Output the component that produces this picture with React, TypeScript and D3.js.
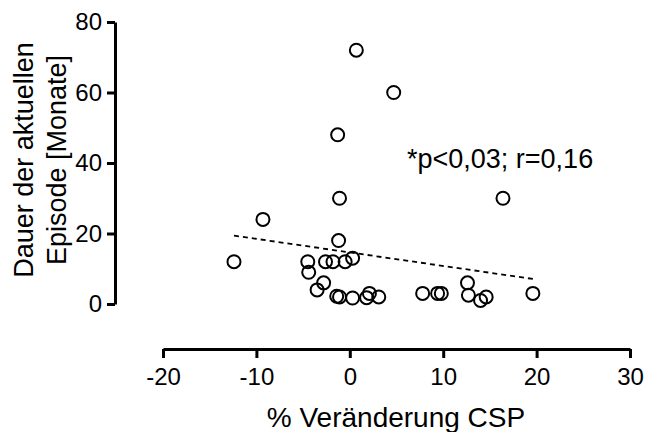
import React, { useEffect, useRef } from 'react';
import * as d3 from 'd3';

// values: % change CSP vs. duration of the episode (months)
const changeCSP = [0.7, 4.7, -1.3, -1.1, 16.4, -9.3, -1.2, 0.3, -12.4, -4.5, -2.6, -1.8, -0.5, -4.4, -2.8, -3.5, -1.1, -1.4, 0.3, 1.8, 2.1, 3.1, 7.8, 9.4, 9.8, 12.6, 12.7, 14.0, 14.6, 19.6];
const durationMonths = [72, 60, 48, 30, 30, 24, 18, 13, 12, 12, 12, 12, 12, 9, 6, 4, 2, 2.2, 1.7, 1.8, 3, 2, 3, 3, 3, 6, 2.5, 1, 2, 3];
const fitX = [-12.4, 19.6];
const fitY = [19.4, 7.1];
const xTicks = [-20, -10, 0, 10, 20, 30];
const yTicks = [0, 20, 40, 60, 80];

const FONT = '"Liberation Sans", Arial, Helvetica, sans-serif';

export default function App() {
  const ref = useRef<SVGSVGElement>(null);

  useEffect(() => {
    const svg = d3.select(ref.current);
    svg.selectAll('*').remove();

    const x = d3.scaleLinear().domain([-20, 30]).range([163, 630]);
    const y = d3.scaleLinear().domain([0, 80]).range([304, 22]);

    // y axis
    const gy = svg.append('g').attr('transform', 'translate(115,0)')
      .call(d3.axisLeft(y).tickValues(yTicks).tickSize(8).tickSizeOuter(0).tickPadding(5)
        .tickFormat(d => String(d)));
    gy.select('.domain').attr('stroke', '#000').attr('stroke-width', 3);
    gy.selectAll('.tick line').attr('stroke', '#000').attr('stroke-width', 3);
    gy.selectAll('.tick text').attr('font-family', FONT).attr('font-size', 24).attr('fill', '#000');

    // x axis, set off below the plot
    const gx = svg.append('g').attr('transform', 'translate(0,349)')
      .call(d3.axisBottom(x).tickValues(xTicks).tickSize(9).tickSizeOuter(0).tickPadding(10)
        .tickFormat(d => String(d)));
    gx.select('.domain').attr('stroke', '#000').attr('stroke-width', 3);
    gx.selectAll('.tick line').attr('stroke', '#000').attr('stroke-width', 3);
    gx.selectAll('.tick text').attr('font-family', FONT).attr('font-size', 24).attr('fill', '#000');

    // axis titles
    svg.append('text')
      .attr('x', 396).attr('y', 427)
      .attr('text-anchor', 'middle')
      .attr('font-family', FONT).attr('font-size', 28)
      .text('% Veränderung CSP');

    const yt = svg.append('text')
      .attr('transform', 'translate(33,160) rotate(-90)')
      .attr('text-anchor', 'middle')
      .attr('font-family', FONT).attr('font-size', 27);
    yt.append('tspan').attr('x', 0).attr('y', 0).text('Dauer der aktuellen');
    yt.append('tspan').attr('x', 0).attr('y', 33).text('Episode [Monate]');

    // regression line
    svg.append('line')
      .attr('x1', x(fitX[0])).attr('y1', y(fitY[0]))
      .attr('x2', x(fitX[1])).attr('y2', y(fitY[1]))
      .attr('stroke', '#000').attr('stroke-width', 1.8)
      .attr('stroke-dasharray', '5,4');

    // points
    svg.selectAll('.pt')
      .data(changeCSP.map((v, i) => [v, durationMonths[i]]))
      .join('circle')
      .attr('class', 'pt')
      .attr('cx', d => x(d[0]))
      .attr('cy', d => y(d[1]))
      .attr('r', 6.5)
      .attr('fill', 'none')
      .attr('stroke', '#000')
      .attr('stroke-width', 2);

    svg.append('text')
      .attr('x', 407).attr('y', 168)
      .attr('font-family', FONT).attr('font-size', 27)
      .text('*p<0,03; r=0,16');
  }, []);

  return (
    <svg ref={ref} width={646} height={432}
      style={{ position: 'absolute', left: 0, top: 0, background: '#fff' }} />
  );
}
